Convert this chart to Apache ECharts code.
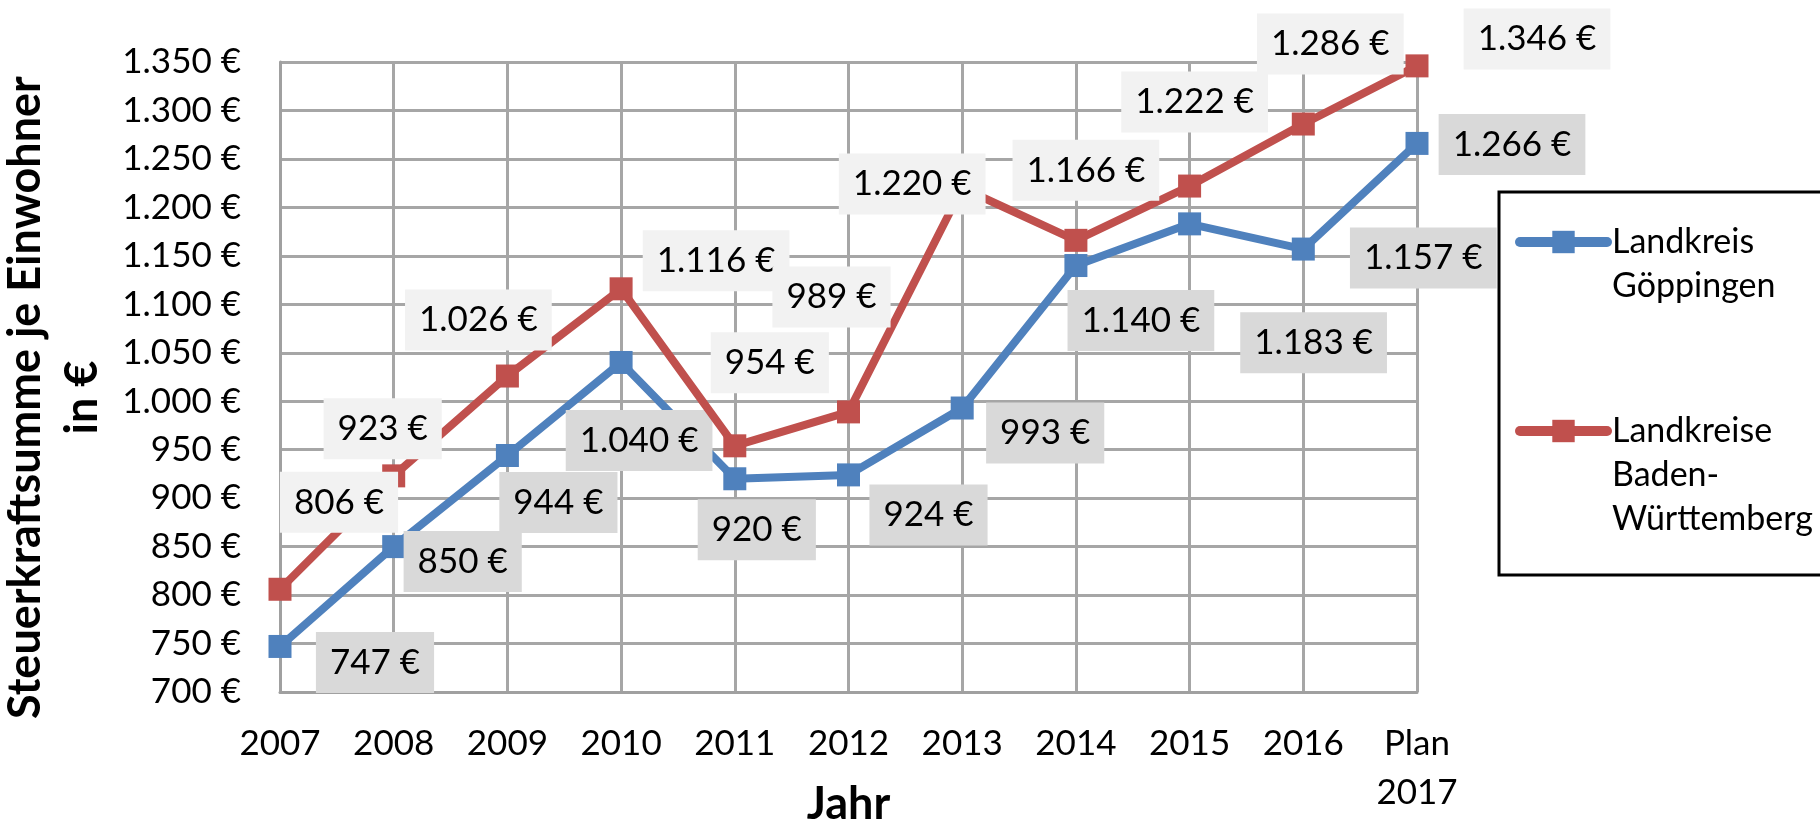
<!DOCTYPE html>
<html><head><meta charset="utf-8">
<script src="https://cdn.jsdelivr.net/npm/echarts@6/dist/echarts.min.js"></script>
<style>html,body{margin:0;padding:0;background:#fff}#c{width:1820px;height:837px}</style>
</head><body><div id="c"></div>
<script>
// ---- data ----
const categories = ['2007','2008','2009','2010','2011','2012','2013','2014','2015','2016','Plan\n2017'];
const goeppingen = [747, 850, 944, 1040, 920, 924, 993, 1140, 1183, 1157, 1266];
const badenWuerttemberg = [806, 923, 1026, 1116, 954, 989, 1220, 1166, 1222, 1286, 1346];
const seriesNames = ['Landkreis Göppingen', 'Landkreise Baden-Württemberg'];
const yMin = 700, yMax = 1350, yStep = 50;

// ---- label placement (style only) ----
const blueLabelOffsets = [[95,16],[69,15],[51,47],[18,78],[22,51],[80,40],[83,25],[65,55],[124,119],[120,9],[95,1]];
const redLabelOffsets = [[59,-87],[-11,-47],[-29,-56],[95,-28],[35,-83],[-17,-115],[-50,-4],[10,-70],[5,-84],[27,-80],[120,-27]];

const FONT = 'Lato';
function euro(v){
  const s = String(Math.round(v));
  return (s.length > 3 ? s.slice(0, s.length-3) + '.' + s.slice(-3) : s) + ' €';
}
function mkData(vals, offs){
  return vals.map((v,i)=>({value:v, label:{offset:offs[i]}}));
}
const labelBase = {show:true, position:'inside', formatter:p=>euro(p.value), color:'#000',
  fontFamily:FONT, fontSize:35, lineHeight:35, padding:[13,14,13,14]};

const chart = echarts.init(document.getElementById('c'), null, {renderer:'canvas'});
chart.setOption({
  animation:false,
  backgroundColor:'#fff',
  grid:{left:280, right:403, top:62, bottom:145, containLabel:false, outerBoundsMode:'none'},
  xAxis:{type:'category', data:categories, boundaryGap:false,
    name:'Jahr', nameLocation:'middle', nameGap:90, nameMoveOverlap:false,
    nameTextStyle:{fontFamily:FONT, fontWeight:'bold', fontSize:45, color:'#000', lineHeight:45},
    axisLine:{lineStyle:{color:'#a0a0a0', width:3}}, axisTick:{show:false},
    axisLabel:{fontFamily:FONT, fontSize:35, color:'#000', lineHeight:49, margin:27, interval:0},
    splitLine:{show:true, lineStyle:{color:'#a6a6a6', width:3}}},
  yAxis:{type:'value', min:yMin, max:yMax, interval:yStep,
    name:'Steuerkraftsumme je Einwohner\nin €', nameLocation:'middle', nameRotate:90, nameGap:160,
    nameTextStyle:{fontFamily:FONT, fontWeight:'bold', fontSize:45, color:'#000', lineHeight:57, padding:[0,41,0,0]},
    axisLine:{show:true, lineStyle:{color:'#a0a0a0', width:3}}, axisTick:{show:false},
    axisLabel:{fontFamily:FONT, fontSize:35, color:'#000', margin:39, formatter:v=>euro(v)},
    splitLine:{show:true, lineStyle:{color:'#a6a6a6', width:3}}},
  legend:{orient:'vertical', left:1499, top:192, padding:[-16,12,34,16],
    borderColor:'#000', borderWidth:3, itemWidth:87, itemHeight:28, itemGap:13,
    lineStyle:{width:10, cap:'round'},
    data:seriesNames,
    formatter:n=> n===seriesNames[0] ? '\nLandkreis\nGöppingen' : '\n\nLandkreise\nBaden-\nWürttemberg',
    textStyle:{fontFamily:FONT, fontSize:34, color:'#000', lineHeight:44}},
  series:[
    {name:seriesNames[0], type:'line', data:mkData(goeppingen, blueLabelOffsets),
     symbol:'rect', symbolSize:23, color:'#4f81bd',
     lineStyle:{width:8, color:'#4f81bd'}, itemStyle:{color:'#4f81bd'},
     label:Object.assign({}, labelBase, {backgroundColor:'#d9d9d9'}), z:2},
    {name:seriesNames[1], type:'line', data:mkData(badenWuerttemberg, redLabelOffsets),
     symbol:'rect', symbolSize:23, color:'#c0504d',
     lineStyle:{width:8, color:'#c0504d'}, itemStyle:{color:'#c0504d'},
     label:Object.assign({}, labelBase, {backgroundColor:'#f2f2f2'}), z:3}
  ]
});
</script></body></html>
